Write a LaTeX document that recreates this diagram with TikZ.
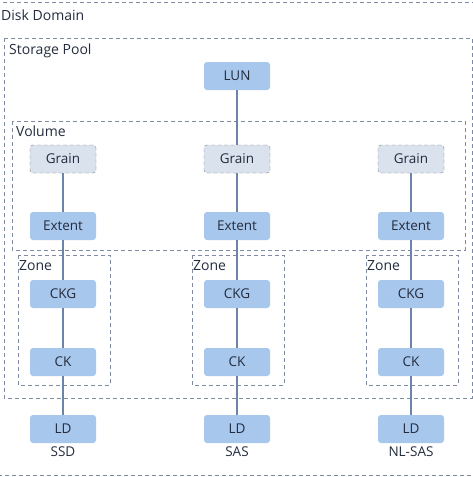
\documentclass[tikz,border=0pt]{standalone}
\usepackage{fontspec}
\setmainfont{Open Sans}
\usetikzlibrary{positioning}
\definecolor{blockblue}{RGB}{168,199,236}
\definecolor{grainfill}{RGB}{218,226,238}
\definecolor{boxline}{RGB}{128,138,162}
\definecolor{linkcol}{RGB}{108,132,172}
\definecolor{txt}{RGB}{36,44,62}

\begin{document}
\begin{tikzpicture}[x=1pt,y=-1pt,
  block/.style={rectangle,rounded corners=3pt,fill=blockblue,minimum width=66pt,minimum height=28pt,inner sep=0pt,text=txt,font=\fontsize{13.5}{15}\selectfont},
  grain/.style={block,fill=grainfill,draw=black!50,dashed,dash pattern=on 4pt off 2.5pt},
  region/.style={draw=boxline,dashed,dash pattern=on 4pt off 3pt},
  caption/.style={anchor=west,inner sep=0pt,text=txt,font=\fontsize{14}{16}\selectfont},
  link/.style={draw=linkcol,line width=1.1pt}
]

\clip (0,0) rectangle (473,477);
\fill[white] (0,0) rectangle (473,477);

% nested domains
\draw[region] (-5,2) rectangle (480,475);
\draw[region] (4,38) rectangle (472,398);
\draw[region] (12,121) rectangle (465,250);

\node[caption] (domain) at (1,15) {Disk Domain};
\node[caption] (pool) at (9,51) {Storage Pool};
\node[caption] (volume) at (16,131) {Volume};

\node[block] (lun) at (237,76) {LUN};

\foreach \c/\x/\t in {a/63/SSD,b/237/SAS,c/411/NL-SAS}{
  \draw[region] (\x-45,255) rectangle (\x+47,385);
  \node[caption] (zone\c) at (\x-44,266) {Zone};
  \node[grain] (grain\c) at (\x,159) {Grain};
  \node[block] (extent\c) at (\x,226) {Extent};
  \node[block] (ckg\c) at (\x,294) {CKG};
  \node[block] (ck\c) at (\x,362) {CK};
  \node[block] (ld\c) at (\x,429) {LD};
  \node[text=txt,font=\fontsize{13.5}{15}\selectfont,below=0pt of ld\c] (disk\c) {\t};
  \draw[link] (grain\c) -- (extent\c);
  \draw[link] (extent\c) -- (ckg\c);
  \draw[link] (ckg\c) -- (ck\c);
  \draw[link] (ck\c) -- (ld\c);
}

\draw[link] (lun) -- (grainb);

\end{tikzpicture}
\end{document}
